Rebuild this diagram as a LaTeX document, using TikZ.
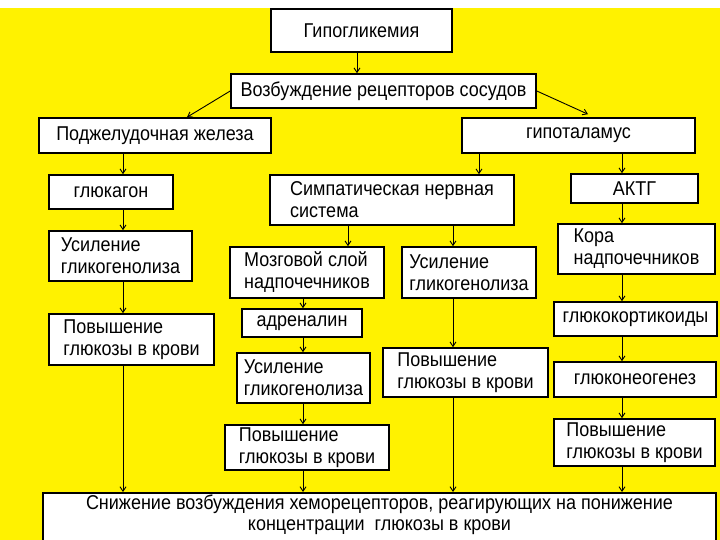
\documentclass[tikz,border=0pt]{standalone}
\usepackage{fontspec}
\setmainfont{Liberation Sans}[FakeStretch=0.9]
\usetikzlibrary{arrows.meta}
\begin{document}
\begin{tikzpicture}[x=1pt,y=-1pt,
  box/.style={draw=black,line width=1.6pt,fill=white,inner sep=0pt,text=black,
    font=\fontsize{20}{22}\selectfont},
  bx/.style 2 args={box,minimum width=#1,minimum height=#2},
  arr/.style={draw=black,line width=0.9pt,-{Straight Barb[length=4.5pt,width=6pt]}}]
\useasboundingbox (0,0) rectangle (720,540);
\fill[white] (0,0) rectangle (720,8);
\fill[yellow] (0,8) rectangle (720,540);

\node[bx={181}{43}] (hypo) at (361.5,30.5) {Гипогликемия};
\node[bx={305}{34}] (vozb) at (383.5,91) {Возбуждение рецепторов сосудов};
\node[bx={232}{35}] (podzh) at (155,135.5) {Поджелудочная железа};
\node[bx={233}{35}] (gipot) at (578.5,135.5) {гипоталамус};
\node[bx={124}{34}] (glukagon) at (111,192) {глюкагон};
\node[bx={244}{50},align=left] (simp) at (392,200) {Симпатическая нервная\\система};
\node[bx={127}{29}] (aktg) at (634.5,188.5) {АКТГ};
\node[bx={143}{50},align=left] (usil1) at (120.5,256) {Усиление\\гликогенолиза};
\node[bx={154}{51},align=left] (mozg) at (307,272.5) {Мозговой слой\\надпочечников};
\node[bx={134}{51},align=left] (usil2) at (469,272.5) {Усиление\\гликогенолиза};
\node[bx={157}{50},align=left] (kora) at (636.5,249) {Кора\\надпочечников};
\node[bx={120}{28}] (adren) at (302,323) {адреналин};
\node[bx={163}{34}] (glcort) at (635.5,319) {глюкокортикоиды};
\node[bx={165}{51},align=left] (pov1) at (131.5,339.5) {Повышение\\глюкозы в крови};
\node[bx={133}{50},align=left] (usil3) at (303.5,378) {Усиление\\гликогенолиза};
\node[bx={165}{49},align=left] (pov2) at (465.5,372.5) {Повышение\\глюкозы в крови};
\node[bx={162}{35}] (glneo) at (635,379.5) {глюконеогенез};
\node[bx={164}{45},align=left] (pov3) at (307,447.5) {Повышение\\глюкозы в крови};
\node[bx={161}{47},align=left] (pov4) at (634.5,442.5) {Повышение\\глюкозы в крови};
\node[box,anchor=north,minimum width=673,align=center,inner ysep=2.5pt,text depth=60pt,
  font=\fontsize{20}{21}\selectfont] (bot) at (379.5,492)
  {Снижение возбуждения хеморецепторов, реагирующих на понижение\\концентрации\ \ глюкозы в крови};

\coordinate (c1) at (123,0);
\coordinate (c2) at (303,0);
\coordinate (c3) at (453,0);
\coordinate (c4) at (622,0);
\coordinate (c5) at (348,0);
\coordinate (c6) at (479,0);
\coordinate (c7) at (357,0);
\coordinate (d1) at (187,0);
\coordinate (d2) at (588,0);

\draw[arr] (hypo.south -| c7) -- (vozb.north -| c7);
\draw[arr] (vozb.west) -- (podzh.north -| d1);
\draw[arr] (vozb.east) -- ([yshift=3pt]gipot.north -| d2);

\draw[arr] (podzh.south -| c1) -- (glukagon.north -| c1);
\draw[arr] (glukagon.south -| c1) -- (usil1.north -| c1);
\draw[arr] (usil1.south -| c1) -- (pov1.north -| c1);
\draw[arr] (pov1.south -| c1) -- (bot.north -| c1);

\draw[arr] (gipot.south -| c6) -- (simp.north -| c6);
\draw[arr] (simp.south -| c5) -- (mozg.north -| c5);
\draw[arr] (simp.south -| c3) -- (usil2.north -| c3);
\draw[arr] (usil2.south -| c3) -- (pov2.north -| c3);
\draw[arr] (pov2.south -| c3) -- (bot.north -| c3);

\draw[arr] (mozg.south -| c2) -- (adren.north -| c2);
\draw[arr] (adren.south -| c2) -- (usil3.north -| c2);
\draw[arr] (usil3.south -| c2) -- (pov3.north -| c2);
\draw[arr] (pov3.south -| c2) -- (bot.north -| c2);

\draw[arr] (gipot.south -| c4) -- (aktg.north -| c4);
\draw[arr] (aktg.south -| c4) -- (kora.north -| c4);
\draw[arr] (kora.south -| c4) -- (glcort.north -| c4);
\draw[arr] (glcort.south -| c4) -- (glneo.north -| c4);
\draw[arr] (glneo.south -| c4) -- (pov4.north -| c4);
\draw[arr] (pov4.south -| c4) -- (bot.north -| c4);
\end{tikzpicture}
\end{document}
